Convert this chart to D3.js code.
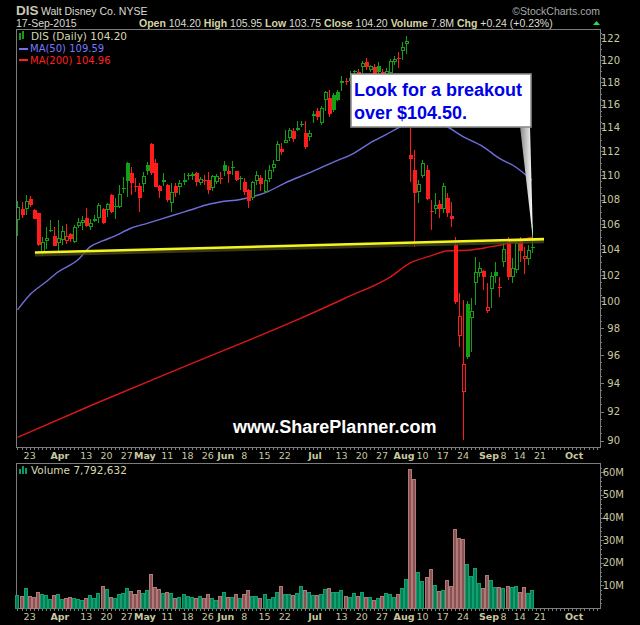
<!DOCTYPE html>
<html><head><meta charset="utf-8">
<script src="https://cdn.jsdelivr.net/npm/d3@7"></script>
<style>body{margin:0;background:#000;} svg{display:block}</style>
</head><body>
<svg id="c" width="640" height="625"></svg>
<script>
// ---------- DATA ----------
const symbol = "DIS";
const companyName = "Walt Disney Co. NYSE";
const lastDateLabel = "17-Sep-2015";
const firstDate = "2015-03-18";
const holidays = ["2015-04-03","2015-05-25","2015-07-03","2015-09-07"];
const priorClose = 106.90;
const opens = [106.34,107.21,107.21,108.04,107.15,106.88,103.83,104.65,105.54,105.07,
104.51,104.75,104.70,105.22,104.62,105.88,106.12,106.52,105.81,106.40,
106.53,107.23,107.15,108.37,107.47,107.37,108.90,111.00,110.21,109.15,
109.13,109.27,110.86,112.67,111.00,109.08,109.62,109.19,107.69,109.11,
109.06,109.43,110.00,110.12,110.21,109.34,109.62,109.58,108.92,109.45,
109.80,110.88,110.38,110.68,110.33,109.78,109.44,108.80,108.12,109.49,
109.76,108.59,109.70,110.61,111.22,112.21,112.71,113.14,113.72,114.00,
114.34,113.55,113.20,115.01,115.45,114.43,116.47,116.62,116.91,117.14,
117.95,118.15,118.15,118.90,118.95,119.34,119.84,119.13,119.34,119.43,
118.95,118.70,118.81,119.85,120.17,120.85,121.46,111.68,110.44,108.62,
109.97,110.44,107.10,107.20,107.64,107.26,108.10,106.66,104.36,97.44,
93.36,99.80,98.73,101.37,102.14,102.31,99.30,100.91,102.22,101.06,
102.99,104.69,101.83,102.39,104.69,103.28,103.26,104.20];
const highs = [107.88,107.83,108.34,108.28,107.21,106.93,105.00,105.81,106.34,105.76,
106.34,105.89,106.00,105.27,105.94,106.47,106.66,107.29,106.40,106.75,
107.74,107.29,107.74,108.45,108.10,109.19,109.87,111.11,110.72,109.74,
109.33,110.30,111.13,112.72,111.33,109.19,110.16,109.25,109.33,109.33,
109.60,110.21,110.16,110.30,110.30,109.87,110.00,110.27,110.03,110.10,
110.27,111.22,110.75,111.16,110.33,109.90,109.76,108.89,109.49,110.33,
110.03,110.46,110.87,111.27,112.91,112.71,113.86,114.00,114.00,114.63,
114.63,114.57,113.86,115.45,115.73,115.89,117.26,117.35,117.06,117.35,
118.54,118.36,118.98,119.13,119.19,119.91,120.18,119.60,119.64,119.82,
119.20,119.30,120.06,120.37,120.76,121.68,122.17,114.09,112.10,109.60,
111.27,110.86,107.96,108.51,107.96,109.33,108.51,107.82,105.00,100.61,
100.10,100.05,100.23,103.38,103.04,102.39,101.36,102.26,103.04,101.88,
104.49,104.96,103.30,104.75,104.96,104.22,104.36,105.95];
const lows = [105.06,106.52,106.75,107.42,106.40,104.30,103.49,104.02,105.41,104.28,
103.70,104.36,104.44,104.62,104.49,105.67,105.54,105.81,105.54,106.20,
106.12,106.02,106.55,106.93,106.40,107.29,108.51,108.24,108.37,108.59,
107.01,108.64,110.02,110.02,109.00,108.10,109.08,107.82,107.01,108.24,
108.37,109.19,109.60,109.60,109.08,109.19,109.20,108.48,108.67,109.28,
109.28,109.93,109.38,110.05,109.54,108.80,108.40,107.31,107.98,109.22,
108.72,108.53,109.43,110.27,111.16,111.69,112.71,112.86,112.80,113.72,
114.09,112.17,112.86,114.43,114.69,114.28,115.45,114.98,115.38,116.32,
117.21,117.77,117.86,118.39,118.21,118.80,119.07,118.90,118.39,118.65,
118.40,118.50,118.72,119.60,119.25,120.00,120.55,109.43,104.22,107.69,
109.76,107.96,105.54,106.80,106.47,106.91,106.61,105.75,99.80,96.59,
90.05,95.71,96.27,99.73,101.88,100.86,99.10,99.48,101.36,100.36,
102.65,101.62,101.36,102.13,103.04,102.07,102.80,103.75];
const closes = [107.37,106.77,107.88,107.58,106.45,104.36,104.62,104.89,105.46,104.30,
104.91,105.46,105.07,104.81,105.80,106.16,106.34,105.86,106.08,106.29,
107.56,106.07,107.64,107.01,107.37,108.45,108.92,109.54,109.33,109.13,
108.10,109.93,110.38,110.16,109.05,108.67,109.43,107.96,108.64,108.51,
109.33,109.62,109.92,109.96,109.43,109.70,109.58,108.78,109.90,109.93,
109.76,110.33,110.13,110.66,109.62,109.74,108.61,107.85,109.44,110.05,
109.27,109.63,110.41,110.94,112.62,111.93,112.94,113.80,113.08,113.83,
114.38,112.40,113.55,115.21,114.92,115.73,117.14,115.21,115.59,116.47,
118.15,118.01,118.39,119.04,118.51,119.70,119.34,119.43,118.69,118.93,
118.66,119.00,119.91,120.15,120.13,121.23,121.74,111.35,108.56,109.31,
111.00,108.02,107.05,107.56,107.20,109.11,106.93,106.42,99.97,98.90,
95.35,95.90,99.25,102.21,102.52,101.88,99.55,101.93,101.97,101.02,
104.01,101.88,102.57,104.49,103.88,103.48,103.96,104.20];
const volumesM = [5.6,5.2,8.7,5.2,4.7,6.9,6.0,5.6,3.8,5.6,
6.0,3.8,4.4,4.7,4.3,4.0,3.4,4.3,5.6,4.4,
6.5,9.6,8.3,4.7,4.3,6.0,6.5,8.7,7.4,6.0,
7.8,6.5,7.8,14.9,9.1,8.3,6.5,6.9,6.5,4.3,
4.7,6.0,5.2,4.7,4.3,5.2,4.3,6.0,4.3,3.4,
5.2,6.9,4.7,4.7,6.0,4.3,6.0,7.8,5.2,5.2,
4.3,6.0,3.8,4.7,6.9,9.6,6.0,6.0,5.6,6.5,
9.6,7.8,6.9,5.6,5.6,6.0,8.3,8.7,6.9,6.9,
7.8,5.2,4.7,6.5,5.2,6.9,4.7,4.7,3.4,4.3,
5.2,6.5,6.0,4.7,6.0,8.7,12.7,61.4,57.2,15.8,
11.8,13.6,17.1,10.0,7.4,7.8,12.2,9.6,34.8,30.8,
30.4,19.3,14.0,17.6,10.9,8.7,14.5,12.2,9.1,9.1,
8.7,9.6,9.1,9.6,6.9,9.1,6.5,7.79];
// moving averages at sample bars
const ma50Dates = ["2015-03-18","2015-03-23","2015-03-27","2015-04-01","2015-04-09","2015-04-14","2015-04-17","2015-04-22","2015-04-28","2015-05-04","2015-05-08","2015-05-14","2015-05-20","2015-05-22","2015-05-29","2015-06-05","2015-06-16","2015-06-22","2015-06-30","2015-07-09","2015-07-16","2015-07-22","2015-07-28","2015-08-03","2015-08-07","2015-08-17","2015-08-24","2015-08-31","2015-09-04","2015-09-11","2015-09-17"];
const ma50Vals = [99.35,100.48,101.47,102.24,103.21,104.22,104.67,105.06,105.68,106.07,106.47,106.88,107.29,107.51,107.80,108.00,108.67,109.35,110.19,111.10,111.84,112.71,113.43,114.17,114.52,114.26,113.26,112.39,111.41,110.69,109.59];
const ma200Dates = ["2015-03-18","2015-04-15","2015-05-20","2015-06-25","2015-07-14","2015-07-29","2015-08-05","2015-08-12","2015-08-18","2015-08-26","2015-09-02","2015-09-10","2015-09-17"];
const ma200Vals = [90.23,92.53,95.52,98.60,100.25,101.85,102.94,103.49,103.88,103.96,104.22,104.54,104.96];
const trendBars = [4.3, 130.0];
const trendVals = [103.76, 104.81];
const priceTicks = [90,92,94,96,98,100,102,104,106,108,110,112,114,116,118,120,122];
const volTicks = [10,20,30,40,50,60];
const tickDates = ["2015-03-23","2015-04-01","2015-04-13","2015-04-20","2015-04-27","2015-05-01","2015-05-11","2015-05-18","2015-05-26","2015-06-01","2015-06-08","2015-06-15","2015-06-22","2015-07-01","2015-07-13","2015-07-20","2015-07-27","2015-08-03","2015-08-10","2015-08-17","2015-08-24","2015-09-01","2015-09-08","2015-09-14","2015-09-21","2015-10-01"];
const tickLabels = ["23","Apr","13","20","27","May","11","18","26","Jun","8","15","22","Jul","13","20","27","Aug","10","17","24","Sep","8","14","21","Oct"];
const quote = [["Open","104.20"],["High","105.95"],["Low","103.75"],["Close","104.20"],["Volume","7.8M"],["Chg","+0.24 (+0.23%)"]];
const legendVolume = "Volume 7,792,632";
const noteLines = ["Look for a breakout","over $104.50."];
const watermark = "www.SharePlanner.com";

// ---------- SETUP ----------
const fmt = d3.utcFormat("%Y-%m-%d");
const days = d3.utcDay.range(new Date(firstDate+"T00:00:00Z"), new Date("2015-10-20T00:00:00Z"))
  .filter(d => d.getUTCDay()!==0 && d.getUTCDay()!==6 && !holidays.includes(fmt(d)));
const idx = new Map(days.map((d,i)=>[fmt(d),i]));
const N = closes.length;

const svg = d3.select("#c");
svg.append("rect").attr("width",640).attr("height",625).attr("fill","#000");

const P = {l:16, r:600, t:29, b:447};
const V = {l:16, r:600, t:463, b:608};
const x = d3.scaleLinear().domain([-0.37, 143.83]).range([P.l, P.r]);
const y = d3.scaleLog().domain([89.57, 122.86]).range([P.b, P.t]);
const yv = d3.scaleLinear().domain([0, 64.1]).range([V.b, V.t]);

const UP = "#14a014", DN = "#ff1c1c";
const AX = "#c8c8a0";
const up = closes.map((c,i)=> c >= (i===0 ? priorClose : closes[i-1]));

// panels
[P,V].forEach(p=>{
  svg.append("rect").attr("x",p.l+0.5).attr("y",p.t+0.5).attr("width",p.r-p.l).attr("height",p.b-p.t)
    .attr("fill","none").attr("stroke","#7c7c7c").attr("stroke-width",1);
});

// clip for price
svg.append("clipPath").attr("id","pc").append("rect").attr("x",P.l+1).attr("y",P.t+1).attr("width",P.r-P.l-1).attr("height",P.b-P.t-1);
const g = svg.append("g").attr("clip-path","url(#pc)");

// moving averages
const line = d3.line().x(d=>x(d[0])).y(d=>y(d[1])).curve(d3.curveMonotoneX);
g.append("path").attr("d", line(ma200Dates.map((d,i)=>[idx.get(d), ma200Vals[i]])))
  .attr("fill","none").attr("stroke","#d81818").attr("stroke-width",1.4);
g.append("path").attr("d", line(ma50Dates.map((d,i)=>[idx.get(d), ma50Vals[i]])))
  .attr("fill","none").attr("stroke","#6f6fdc").attr("stroke-width",1.4);

// candles
for(let i=0;i<N;i++){
  const cx = Math.round(x(i));
  const col = up[i] ? UP : DN;
  const o=opens[i], c=closes[i];
  const hollow = c > o;
  g.append("rect").attr("x",cx).attr("y",Math.round(y(highs[i]))).attr("width",1)
    .attr("height",Math.max(1,Math.round(y(lows[i]))-Math.round(y(highs[i])))).attr("fill",col).attr("shape-rendering","crispEdges");
  const top = Math.round(y(Math.max(o,c))), bot = Math.round(y(Math.min(o,c)));
  const h = bot-top;
  if(h < 2){
    g.append("rect").attr("x",cx-1).attr("y",top).attr("width",4).attr("height",1).attr("fill",col).attr("shape-rendering","crispEdges");
  } else if(hollow){
    g.append("rect").attr("x",cx-0.5).attr("y",top+0.5).attr("width",3).attr("height",h-1)
      .attr("fill","#000").attr("stroke",col).attr("stroke-width",1).attr("shape-rendering","crispEdges");
  } else {
    g.append("rect").attr("x",cx-1).attr("y",top).attr("width",4).attr("height",h).attr("fill",col).attr("shape-rendering","crispEdges");
  }
}

// trend line
const tl = [[trendBars[0],trendVals[0]],[trendBars[1],trendVals[1]]];
const tline = d3.line().x(d=>x(d[0])).y(d=>y(d[1]));
g.append("path").attr("d",tline(tl)).attr("transform","translate(0,2)").attr("stroke","rgba(70,70,30,0.8)").attr("stroke-width",4).attr("fill","none");
g.append("path").attr("d",tline(tl)).attr("stroke","#f4f41e").attr("stroke-width",2.6).attr("fill","none");

// watermark
svg.append("text").attr("x",233).attr("y",433).text(watermark)
  .attr("font-family","Liberation Sans, Arial").attr("font-weight","bold").attr("font-size",18).attr("fill","#fff");

// annotation callout
const defs = svg.append("defs");
const lg = defs.append("linearGradient").attr("id","pg").attr("x1","0").attr("x2","1").attr("y1","0").attr("y2","0");
lg.append("stop").attr("offset","0").attr("stop-color","#8a8a8a");
lg.append("stop").attr("offset","1").attr("stop-color","#ffffff");
svg.append("path").attr("d","M520,126 L530,126 L533,240 Z").attr("fill","url(#pg)");
svg.append("rect").attr("x",351).attr("y",74).attr("width",180).attr("height",53)
  .attr("fill","#fff").attr("stroke","#8c8c8c").attr("stroke-width",1.6);
noteLines.forEach((t,k)=>{
  svg.append("text").attr("x",354).attr("y",96+k*22.5).text(t)
    .attr("font-family","Liberation Sans, Arial").attr("font-weight","bold").attr("font-size",18).attr("fill","#0000e6");
});

// price axis
const ay = svg.append("g");
d3.range(90,122.6,0.5).forEach(v=>{
  const yy = Math.round(y(v))+0.5, major = Math.abs(v-Math.round(v/2)*2)<1e-6;
  ay.append("line").attr("x1",P.r+1).attr("x2",P.r+(major?4:2)).attr("y1",yy).attr("y2",yy).attr("stroke","#7c7c7c");
});
priceTicks.forEach(v=>{
  ay.append("text").attr("x",620).attr("y",y(v)).attr("dy","0.35em").attr("text-anchor","end").text(v)
    .attr("font-family","DejaVu Sans").attr("font-size",10).attr("fill",AX);
});
// volume axis
d3.range(2,64,2).forEach(v=>{
  const yy = Math.round(yv(v))+0.5, major = v%10===0;
  ay.append("line").attr("x1",V.r+1).attr("x2",V.r+(major?4:2)).attr("y1",yy).attr("y2",yy).attr("stroke","#7c7c7c");
});
volTicks.forEach(v=>{
  ay.append("text").attr("x",624).attr("y",yv(v)).attr("dy","0.35em").attr("text-anchor","end").text(v+"M")
    .attr("font-family","DejaVu Sans").attr("font-size",10).attr("fill",AX);
});

// x ticks & labels
[P.b, V.b].forEach((by,k)=>{
  for(let i=0;i<=143;i++){
    const xx = Math.round(x(i))+0.5;
    svg.append("line").attr("x1",xx).attr("x2",xx).attr("y1",by+1).attr("y2",by+3).attr("stroke","#7c7c7c");
  }
  tickDates.forEach((d,j)=>{
    const isMonth = /[A-Za-z]/.test(tickLabels[j]);
    svg.append("text").attr("x",x(idx.get(d))+(isMonth?1.8:0)).attr("y",k===0?458.5:620).attr("text-anchor","middle")
      .text(tickLabels[j]).attr("font-family","DejaVu Sans").attr("font-size",9.5)
      .attr("font-weight",isMonth?"bold":"normal").attr("fill",AX);
  });
});

// volume bars
const gv = svg.append("g");
for(let i=0;i<N;i++){
  const cx = Math.round(x(i));
  const t = Math.round(yv(volumesM[i]));
  gv.append("rect").attr("x",cx-1.5).attr("y",t+0.5).attr("width",3).attr("height",V.b-t-0.5)
    .attr("fill",up[i]?"#007f55":"#8a5252").attr("stroke",up[i]?"#12a070":"#b07a7a").attr("stroke-width",1)
    .attr("shape-rendering","crispEdges");
}

// legends
const lgP = svg.append("g").attr("font-family","DejaVu Sans").attr("font-size",10);
lgP.append("rect").attr("x",19).attr("y",33).attr("width",2).attr("height",7).attr("fill",UP);
lgP.append("rect").attr("x",22).attr("y",31).attr("width",2).attr("height",8).attr("fill",UP);
lgP.append("text").attr("x",31).attr("y",40).text("DIS (Daily) 104.20").attr("fill","#d8d8b0").attr("font-size",10.5);
lgP.append("rect").attr("x",19).attr("y",48).attr("width",9).attr("height",2).attr("fill","#7070f0");
lgP.append("text").attr("x",30).attr("y",52).text("MA(50) 109.59").attr("fill","#7878ff");
lgP.append("rect").attr("x",19).attr("y",59).attr("width",9).attr("height",2).attr("fill","#ff2020");
lgP.append("text").attr("x",30).attr("y",63.5).text("MA(200) 104.96").attr("fill","#ff2020");
[0,3,6].forEach((dx,k)=>lgP.append("rect").attr("x",19+dx).attr("y",466+[3,0,2][k]).attr("width",2).attr("height",8-[3,0,2][k]).attr("fill","#0a9a66"));
lgP.append("text").attr("x",31).attr("y",474).text(legendVolume).attr("fill","#d8d8b0").attr("font-size",10.5);

// header
const hf = "Liberation Sans, Arial";
svg.append("text").attr("x",16).attr("y",15).text(symbol).attr("font-family",hf).attr("font-weight","bold").attr("font-size",13.5).attr("fill","#c8c8b4");
svg.append("text").attr("x",41).attr("y",14.5).text(companyName).attr("font-family",hf).attr("font-size",10.5).attr("fill","#dcdcd0");
svg.append("text").attr("x",600).attr("y",14.5).attr("text-anchor","end").text("\u00A9StockCharts.com").attr("font-family",hf).attr("font-size",10.5).attr("fill","#a8a8a8");
svg.append("text").attr("x",16).attr("y",27).text(lastDateLabel).attr("font-family",hf).attr("font-size",10.5).attr("fill","#dcdcd0");
const qt = svg.append("text").attr("x",139).attr("y",27).attr("font-family",hf).attr("font-size",10.5).style("white-space","pre");
quote.forEach(([k,v],j)=>{
  qt.append("tspan").text((j?" ":"")+k).attr("font-weight","bold").attr("fill","#d4d4a4");
  qt.append("tspan").text(" "+v).attr("fill","#dcdcd0");
});
svg.append("path").attr("d","M593,25 L600,25 L596.5,21 Z").attr("fill","#22dd55");
</script>
</body></html>
